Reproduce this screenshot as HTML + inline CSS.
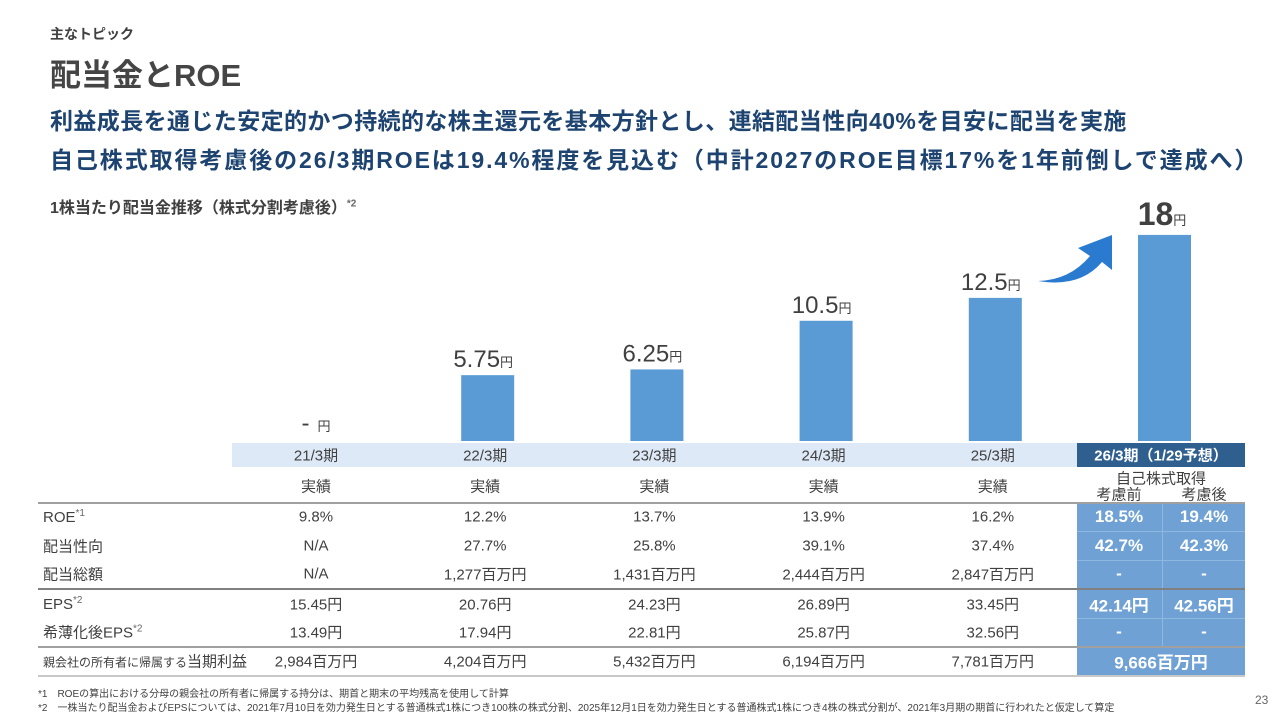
<!DOCTYPE html>
<html><head><meta charset="utf-8"><style>
body{margin:0;width:1280px;height:720px;background:#fff;position:relative;overflow:hidden;font-family:"Liberation Sans","Noto Sans CJK JP",sans-serif;color:#404040}
.a{position:absolute;white-space:nowrap}
.c{position:absolute;text-align:center;font-size:15px;transform:translate(-50%,-50%);white-space:nowrap}
.l{position:absolute;font-size:15px;transform:translateY(-50%);white-space:nowrap}
.w{color:#fff;font-weight:bold;font-size:17px}
sup{font-size:10px;color:#666}
</style></head><body>
<div class="a" style="left:50px;top:24px;font-size:14px;font-weight:bold">主なトピック</div>
<div class="a" style="left:50px;top:50px;font-size:31px;font-weight:bold;color:#454545">配当金とROE</div>
<div class="a" style="left:50px;top:102px;font-size:23px;font-weight:bold;color:#1d4370;letter-spacing:0.4px">利益成長を通じた安定的かつ持続的な株主還元を基本方針とし、連結配当性向40%を目安に配当を実施</div>
<div class="a" style="left:50px;top:141px;font-size:23px;font-weight:bold;color:#1d4370;letter-spacing:1.9px">自己株式取得考慮後の26/3期ROEは19.4%程度を見込む（中計2027のROE目標17%を1年前倒しで達成へ）</div>
<div class="a" style="left:50px;top:194px;font-size:16px;font-weight:bold">1株当たり配当金推移（株式分割考慮後）<sup>*2</sup></div>

<div class="a" style="left:232px;top:443px;width:845px;height:24px;background:#dde9f6"></div>
<div class="a" style="left:1077px;top:443px;width:168px;height:24px;background:#2e5f8f"></div>
<div class="a" style="left:1077px;top:502px;width:168px;height:174px;background:#6fa1d4"></div>
<div class="a" style="left:1162px;top:502px;width:1px;height:145px;background:#8fb8e0"></div>
<div class="a" style="left:1077px;top:531px;width:168px;height:1px;background:#8fb8e0"></div>
<div class="a" style="left:1077px;top:560px;width:168px;height:1px;background:#8fb8e0"></div>
<div class="a" style="left:1077px;top:618px;width:168px;height:1px;background:#8fb8e0"></div>
<div class="a" style="left:38px;top:502px;width:1207px;height:2px;background:#a0a0a0"></div>
<div class="a" style="left:38px;top:588px;width:1207px;height:2px;background:#808080"></div>
<div class="a" style="left:38px;top:646px;width:1207px;height:2px;background:#a0a0a0"></div>
<div class="a" style="left:38px;top:675px;width:1207px;height:2px;background:#c8c8c8"></div>

<svg class="a" style="left:0;top:0" width="1280" height="720" id="chart"></svg>
<div id="tbl"></div>

<div class="a" style="left:38px;top:685px;font-size:10px">*1　ROEの算出における分母の親会社の所有者に帰属する持分は、期首と期末の平均残高を使用して計算</div>
<div class="a" style="left:38px;top:699px;font-size:10px">*2　一株当たり配当金およびEPSについては、2021年7月10日を効力発生日とする普通株式1株につき100株の株式分割、2025年12月1日を効力発生日とする普通株式1株につき4株の株式分割が、2021年3月期の期首に行われたと仮定して算定</div>
<div class="a" style="left:1255px;top:693px;font-size:12px;color:#666">23</div>

<script>
const periods=["21/3期","22/3期","23/3期","24/3期","25/3期"];
const dividends=[0,5.75,6.25,10.5,12.5,18];
const divLabels=["-","5.75","6.25","10.5","12.5","18"];
const rowNames=["ROE","配当性向","配当総額","EPS","希薄化後EPS"];
const roe=["9.8%","12.2%","13.7%","13.9%","16.2%"];
const payout=["N/A","27.7%","25.8%","39.1%","37.4%"];
const totalDiv=["N/A","1,277百万円","1,431百万円","2,444百万円","2,847百万円"];
const eps=["15.45円","20.76円","24.23円","26.89円","33.45円"];
const dilEps=["13.49円","17.94円","22.81円","25.87円","32.56円"];
const netIncome=["2,984百万円","4,204百万円","5,432百万円","6,194百万円","7,781百万円"];
const fcBefore=["18.5%","42.7%","-","42.14円","-"];
const fcAfter=["19.4%","42.3%","-","42.56円","-"];
const fcNet="9,666百万円";

const ns="http://www.w3.org/2000/svg";
const svg=document.getElementById('chart');
const x=i=>316+i*169.2;
const y=v=>441-v*11.45;
for(let i=0;i<dividends.length;i++){
  const r=document.createElementNS(ns,'rect');
  
  
  r.setAttribute('x',x(i)-24);r.setAttribute('y',y(dividends[i]));
  r.setAttribute('width',53);r.setAttribute('height',441-y(dividends[i]));
  r.setAttribute('fill','#5b9bd5');svg.appendChild(r);
  const t=document.createElementNS(ns,'text');
  
  
  const last=i==dividends.length-1;
  t.setAttribute('x',x(i)+(last?0:(i==0?0:-2)));t.setAttribute('y',y(dividends[i])-(last?10:(i==0?10:8)));
  t.setAttribute('text-anchor','middle');t.setAttribute('fill','#404040');
  t.setAttribute('font-family','"Liberation Sans","Noto Sans CJK JP",sans-serif');
  t.innerHTML='<tspan font-size="'+(last?32:24)+'" font-weight="'+(last?'bold':'normal')+'">'+divLabels[i]+'</tspan><tspan font-size="13" dx="'+(i==0?8:0)+'">円</tspan>';
  svg.appendChild(t);
}
const arr=document.createElementNS(ns,'path');


arr.setAttribute('d','M1038 281 Q1070 280 1090 256 L1078 248 L1112 235 L1112 270 L1102 262 Q1080 288 1038 281Z');
arr.setAttribute('fill','#2a7ad0');svg.appendChild(arr);

const tb=document.getElementById('tbl');
function cell(txt,cx,cy,cls,name){const d=document.createElement('div');d.className=cls;d.style.left=cx+'px';d.style.top=cy+'px';d.innerHTML=txt;


tb.appendChild(d);}
const rows=[roe,payout,totalDiv,eps,dilEps];
const ry=[517,546,574,604,632];
const labs=["ROE<sup>*1</sup>","配当性向","配当総額","EPS<sup>*2</sup>","希薄化後EPS<sup>*2</sup>"];
periods.forEach((p,i)=>{cell(p,x(i),455,'c','period-label');cell('実績',x(i),486,'c','actual-label');
 rows.forEach((r,j)=>cell(r[i],x(i),ry[j],'c','value-cell'));cell(netIncome[i],x(i),661,'c','net-income-cell');});
labs.forEach((l,j)=>cell(l,43,ry[j],'l','row-label'));
cell('<span style="font-size:12px">親会社の所有者に帰属する</span>当期利益',43,661,'l','row-label');
cell('<b style="color:#fff">26/3期（1/29予想）</b>',1161,455,'c','forecast-period');
cell('自己株式取得',1161,478,'c','buyback-label');
cell('考慮前',1119,494,'c','before-label');cell('考慮後',1204,494,'c','after-label');
fcBefore.forEach((v,j)=>cell(v,1119,ry[j],'c w','forecast-before'));
fcAfter.forEach((v,j)=>cell(v,1204,ry[j],'c w','forecast-after'));
cell(fcNet,1161,661,'c w','forecast-net-income');
</script>
</body></html>
